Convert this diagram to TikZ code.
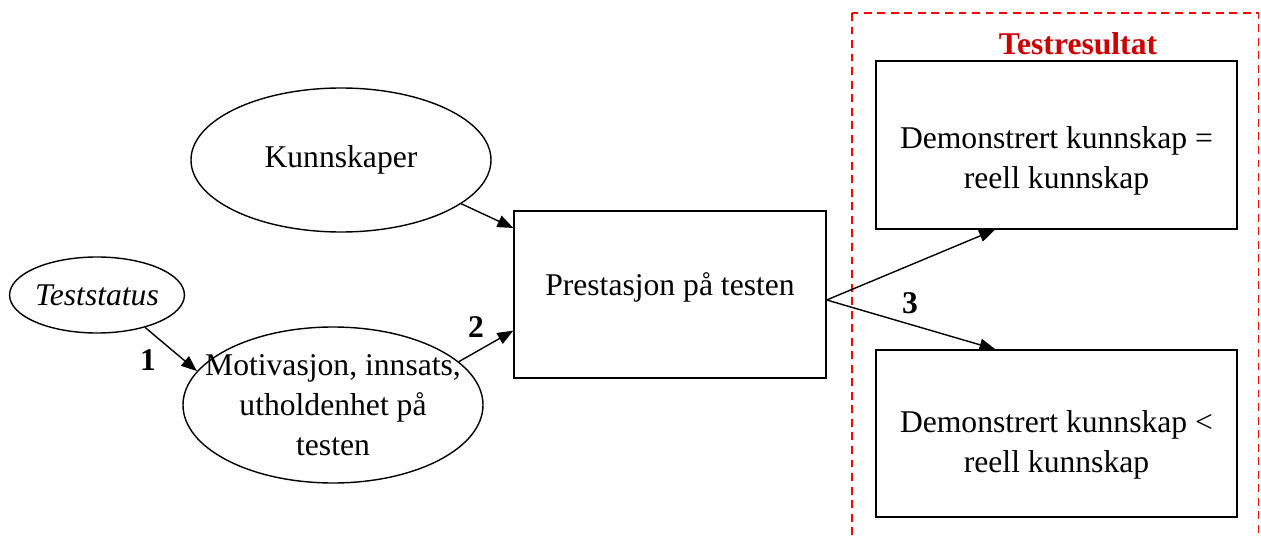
\documentclass[tikz,border=0pt]{standalone}
\usepackage{fontspec}
\setmainfont{Liberation Serif}
\usepackage{tikz}
\usetikzlibrary{arrows,arrows.meta,shapes,positioning}
\definecolor{titlered}{RGB}{204,0,0}

\begin{document}
\begin{tikzpicture}[font=\fontsize{18}{22.7}\selectfont,
    every node/.style={inner sep=0pt, align=center},
    oval/.style={draw, ellipse, line width=0.8pt},
    box/.style={draw, rectangle, line width=0.8pt},
    boxtext/.style={align=center, font=\fontsize{18}{22.7}\selectfont},
    num/.style={font=\fontsize{18}{22}\selectfont\bfseries}]
\useasboundingbox (0,0) rectangle (25.22,-10.74);
%the frame round the test results
    \draw[red, dashed, line width=0.8pt, dash pattern=on 4.5pt off 3.2pt]
       (17.04,-0.26) rectangle (25.17,-11);
    \node[text=titlered, font=\fontsize{18}{22}\selectfont\bfseries] (title) at (21.56,-0.88) {Testresultat};

%the ellipses
    \node[oval, minimum width=6cm, minimum height=2.88cm] (kunn) at (6.82,-3.2) {Kunnskaper};
    \node[oval, minimum width=3.4cm, minimum height=1.52cm] (stat) at (1.94,-5.9) {\itshape Teststatus};
    \node[oval, minimum width=6cm, minimum height=3.12cm, inner xsep=-1.5cm, inner ysep=-0.8cm]
       (motiv) at (6.66,-8.1) {Motivasjon, innsats,\\ utholdenhet på\\ testen};

%the boxes
    \node[box, minimum width=6.24cm, minimum height=3.34cm,
       label={[boxtext, yshift=0.15cm]center:Prestasjon på testen}] (prest) at (13.4,-5.89) {};
    \node[box, minimum width=7.22cm, minimum height=3.36cm,
       label={[boxtext, yshift=-0.32cm]center:Demonstrert kunnskap =\\ reell kunnskap}] (lik) at (21.13,-2.9) {};
    \node[box, minimum width=7.22cm, minimum height=3.34cm,
       label={[boxtext, yshift=-0.22cm]center:Demonstrert kunnskap <\\ reell kunnskap}] (mindre) at (21.13,-8.67) {};

%the arrows
    \begin{scope}[every path/.style={line width=0.8pt, -{Triangle[length=9pt,width=7pt]}}]
       \draw (stat.-34.6) -- (motiv.166.6);
       \draw (kunn.-20) -- (prest.157.2);
       \draw (motiv.19.7) -- (prest.-167.9);
       \draw (prest.-2.75) -- (lik.-126.2);
       \draw (prest.-2.75) -- (mindre.126.4);
    \end{scope}

%numbers on the arrows
    \node[num] (n1) at (2.96,-7.2) {1};
    \node[num] (n2) at (9.52,-6.54) {2};
    \node[num] (n3) at (18.2,-6.06) {3};
\end{tikzpicture}
\end{document}
